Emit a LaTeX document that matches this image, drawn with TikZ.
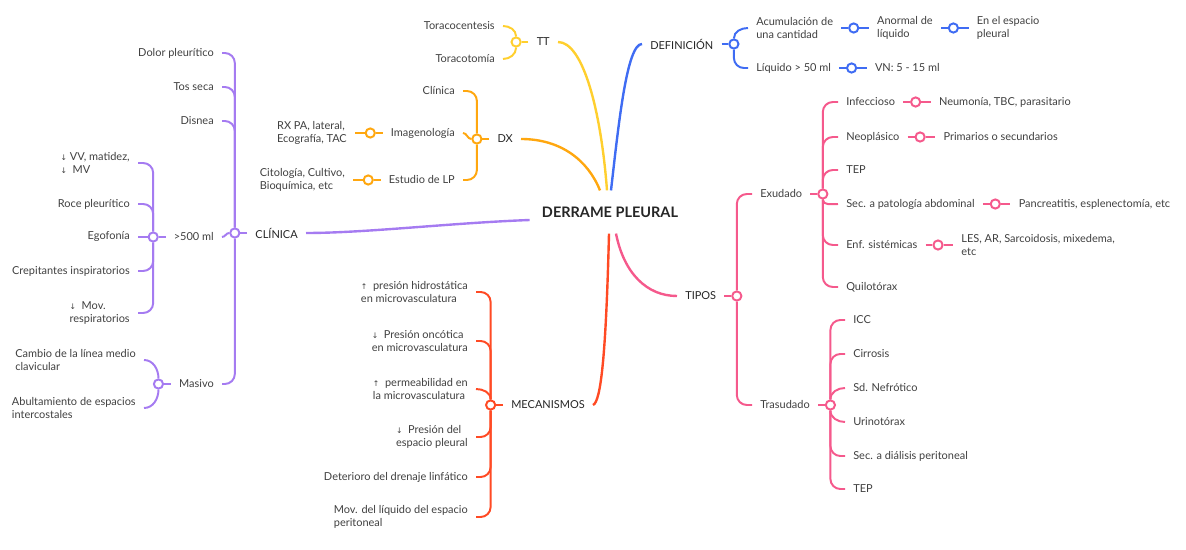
\documentclass[tikz,border=0pt]{standalone}
\usepackage{fontspec}
\setmainfont{Lato}
\newfontfamily\flechas{DejaVu Sans}
\usetikzlibrary{positioning,calc}
\definecolor{azul}{HTML}{3F6CF3}
\definecolor{amarillo}{HTML}{FFCF2E}
\definecolor{naranja}{HTML}{FFA70F}
\definecolor{morado}{HTML}{A57BF1}
\definecolor{rojo}{HTML}{FF4A24}
\definecolor{rosa}{HTML}{F5598C}
\definecolor{tinta}{HTML}{262626}
\definecolor{gris}{HTML}{404040}
\newcommand{\sube}{{\flechas\fontsize{5.5}{6}\selectfont ↑}}
\newcommand{\baja}{{\flechas\fontsize{5.5}{6}\selectfont ↓}}
\tikzset{
	hoja/.style={font=\fontsize{7.8}{9.3}\selectfont, text=gris, align=left, inner xsep=0.2cm, inner ysep=1pt},
	rama/.style={hoja, text=tinta},
	titulo/.style={font=\bfseries\fontsize{10.3}{12}\selectfont, text=tinta, inner xsep=0.3cm, inner ysep=0.4cm},
	nudo/.style={circle, draw=#1, fill=white, line width=1.4pt, minimum size=0.23cm, inner sep=0pt},
	tronco/.style={line width=1.7pt},
	enlace/.style={line width=1.4pt, rounded corners=0.25cm}
}
\begin{document}
\begin{tikzpicture}[x=0.025cm,y=-0.025cm]
			\useasboundingbox (0,0) rectangle (1186,550);

			\node[titulo] (dp) at (610,212) {DERRAME PLEURAL};

			\node[rama, anchor=west] (def) at (642,44) {DEFINICIÓN};
			\node[nudo=azul, right=0.17cm of def] (cdef) {};
			\node[hoja, anchor=west] (acu) at (748,28) {Acumulación de\\una cantidad};
			\node[nudo=azul, right=0.17cm of acu] (cacu) {};
			\node[hoja, right=0.24cm of cacu] (anor) {Anormal de\\líquido};
			\node[nudo=azul, right=0.17cm of anor] (canor) {};
			\node[hoja, right=0.24cm of canor] (esp) {En el espacio\\pleural};
			\node[hoja, anchor=west] (liq) at (748,68) {Líquido > 50 ml};
			\node[nudo=azul, right=0.17cm of liq] (cliq) {};
			\node[hoja, right=0.24cm of cliq] (vn) {VN: 5 - 15 ml};

			\draw[tronco,azul] ($(dp.north)+(1,0)$) .. controls +(8,-70) and +(-15,0) .. (def.west);
			\begin{scope}[enlace,azul]
				\draw (def) -- (cdef);
				\draw (cdef) to[out=90,in=180] (acu.west);
				\draw (cdef) |- (liq.west);
				\draw (acu) -- (cacu) (cacu) -- (anor) (anor) -- (canor) (canor) -- (esp);
				\draw (liq) -- (cliq) (cliq) -- (vn);
			\end{scope}

			\node[rama, anchor=east] (tt) at (558,42) {TT};
			\node[nudo=amarillo, left=0.17cm of tt] (ctt) {};
			\node[hoja, anchor=east] (tcen) at (503,26) {Toracocentesis};
			\node[hoja, anchor=east] (ttom) at (503,59) {Toracotomía};

			\draw[tronco,amarillo] ($(dp.north)+(-3,0)$) .. controls +(-6,-80) and +(25,0) .. (tt.east);
			\begin{scope}[enlace,amarillo]
				\draw (tt) -- (ctt);
				\draw (ctt) to[out=90,in=0] (tcen.east);
				\draw (ctt) to[out=-90,in=0] (ttom.east);
			\end{scope}

			\node[rama, anchor=east] (dx) at (521,139) {DX};
			\node[nudo=naranja, left=0.17cm of dx] (cdx) {};
			\node[hoja, anchor=east] (cli) at (463,91) {Clínica};
			\node[hoja, anchor=east] (img) at (463,133) {Imagenología};
			\node[nudo=naranja, left=0.17cm of img] (cimg) {};
			\node[hoja, left=0.24cm of cimg] (rx) {RX PA, lateral,\\Ecografía, TAC};
			\node[hoja, anchor=east] (elp) at (463,180) {Estudio de LP};
			\node[nudo=naranja, left=0.17cm of elp] (celp) {};
			\node[hoja, left=0.24cm of celp] (cito) {Citología, Cultivo,\\Bioquímica, etc};

			\draw[tronco,naranja] ($(dp.north)+(-10,0)$) .. controls +(-12,-30) and +(40,0) .. (dx.east);
			\begin{scope}[enlace,naranja]
				\draw (dx) -- (cdx);
				\draw (cdx) |- (cli.east);
				\draw (cdx) to[out=180,in=0] (img.east);
				\draw (cdx) |- (elp.east);
				\draw (img) -- (cimg) (cimg) -- (rx);
				\draw (elp) -- (celp) (celp) -- (cito);
			\end{scope}

			\node[rama, anchor=east] (clin) at (306,233) {CLÍNICA};
			\node[nudo=morado, left=0.17cm of clin] (cclin) {};
			\node[hoja, anchor=east] (dolor) at (222,53) {Dolor pleurítico};
			\node[hoja, anchor=east] (tos) at (222,87) {Tos seca};
			\node[hoja, anchor=east] (disnea) at (222,121) {Disnea};
			\node[hoja, anchor=east] (m500) at (222,237) {>500 ml};
			\node[nudo=morado, left=0.17cm of m500] (cm500) {};
			\node[hoja, anchor=east] (masivo) at (222,384) {Masivo};
			\node[nudo=morado, left=0.17cm of masivo] (cmasivo) {};
			\node[hoja, anchor=east] (vv) at (138,163) {\baja\ VV, matidez,\\\baja\ \ MV};
			\node[hoja, anchor=east] (roce) at (138,204) {Roce pleurítico};
			\node[hoja, anchor=east] (ego) at (138,237) {Egofonía};
			\node[hoja, anchor=east] (crep) at (138,271) {Crepitantes inspiratorios};
			\node[hoja, anchor=east] (movr) at (138,313) {\baja\ \ Mov.\\respiratorios};
			\node[hoja, anchor=east] (cambio) at (144,360) {Cambio de la línea medio\\clavicular};
			\node[hoja, anchor=east] (abult) at (144,408) {Abultamiento de espacios\\intercostales};

			\draw[tronco,morado] ($(dp.west)+(0,8)$) .. controls +(-80,3) and +(60,0) .. (clin.east);
			\begin{scope}[enlace,morado]
				\draw (clin) -- (cclin);
				\draw (cclin) |- (dolor.east);
				\draw (cclin) |- (tos.east);
				\draw (cclin) |- (disnea.east);
				\draw (cclin) to[out=180,in=0] (m500.east);
				\draw (cclin) |- (masivo.east);
				\draw (m500) -- (cm500);
				\draw (cm500) |- (vv.east);
				\draw (cm500) |- (roce.east);
				\draw (cm500) -- (ego);
				\draw (cm500) |- (crep.east);
				\draw (cm500) |- (movr.east);
				\draw (masivo) -- (cmasivo);
				\draw (cmasivo) to[out=90,in=0] (cambio.east);
				\draw (cmasivo) to[out=-90,in=0] (abult.east);
			\end{scope}

			\node[rama, anchor=east] (meca) at (593,405) {MECANISMOS};
			\node[nudo=rojo, left=0.17cm of meca] (cmeca) {};
			\node[hoja, anchor=east] (hidro) at (476,292) {\sube\ \ presión hidrostática\\en microvasculatura};
			\node[hoja, anchor=east] (onco) at (476,341) {\baja\ \ Presión oncótica\\en microvasculatura};
			\node[hoja, anchor=east] (perm) at (476,389) {\sube\ \ permeabilidad en\\la microvasculatura};
			\node[hoja, anchor=east] (pleu) at (476,437) {\baja\ \ Presión del\\espacio pleural};
			\node[hoja, anchor=east] (linf) at (476,477) {Deterioro del drenaje linfático};
			\node[hoja, anchor=east] (peri) at (476,517) {Mov. del líquido del espacio\\peritoneal};

			\draw[tronco,rojo] ($(dp.south)+(-1,0)$) .. controls +(-3,120) and +(8,-3) .. (meca.east);
			\begin{scope}[enlace,rojo]
				\draw (meca) -- (cmeca);
				\draw (cmeca) |- (hidro.east);
				\draw (cmeca) |- (onco.east);
				\draw (cmeca) to[out=90,in=0] (perm.east);
				\draw (cmeca) |- (pleu.east);
				\draw (cmeca) |- (linf.east);
				\draw (cmeca) |- (peri.east);
			\end{scope}

			\node[rama, anchor=west] (tipos) at (677,296) {TIPOS};
			\node[nudo=rosa, right=0.17cm of tipos] (ctipos) {};
			\node[hoja, anchor=west] (exu) at (752,194) {Exudado};
			\node[nudo=rosa, right=0.17cm of exu] (cexu) {};
			\node[hoja, anchor=west] (inf) at (838,102) {Infeccioso};
			\node[nudo=rosa, right=0.17cm of inf] (cinf) {};
			\node[hoja, right=0.24cm of cinf] (neum) {Neumonía, TBC, parasitario};
			\node[hoja, anchor=west] (neo) at (838,137) {Neoplásico};
			\node[nudo=rosa, right=0.17cm of neo] (cneo) {};
			\node[hoja, right=0.24cm of cneo] (prim) {Primarios o secundarios};
			\node[hoja, anchor=west] (tepa) at (838,170) {TEP};
			\node[hoja, anchor=west] (abdo) at (838,204) {Sec. a patología abdominal};
			\node[nudo=rosa, right=0.17cm of abdo] (cabdo) {};
			\node[hoja, right=0.24cm of cabdo] (panc) {Pancreatitis, esplenectomía, etc};
			\node[hoja, anchor=west] (enf) at (838,245) {Enf. sistémicas};
			\node[nudo=rosa, right=0.17cm of enf] (cenf) {};
			\node[hoja, right=0.24cm of cenf] (les) {LES, AR, Sarcoidosis, mixedema,\\etc};
			\node[hoja, anchor=west] (quilo) at (838,287) {Quilotórax};
			\node[hoja, anchor=west] (tras) at (752,405) {Trasudado};
			\node[nudo=rosa, right=0.17cm of tras] (ctras) {};
			\node[hoja, anchor=west] (icc) at (845,320) {ICC};
			\node[hoja, anchor=west] (cirr) at (845,354) {Cirrosis};
			\node[hoja, anchor=west] (sdn) at (845,388) {Sd. Nefrótico};
			\node[hoja, anchor=west] (urin) at (845,422) {Urinotórax};
			\node[hoja, anchor=west] (dial) at (845,456) {Sec. a diálisis peritoneal};
			\node[hoja, anchor=west] (tepb) at (845,489) {TEP};

			\draw[tronco,rosa] ($(dp.south)+(6,0)$) .. controls +(8,40) and +(-30,0) .. (tipos.west);
			\begin{scope}[enlace,rosa]
				\draw (tipos) -- (ctipos);
				\draw (ctipos) |- (exu.west);
				\draw (ctipos) |- (tras.west);
				\draw (exu) -- (cexu);
				\draw (cexu) |- (inf.west);
				\draw (cexu) |- (neo.west);
				\draw (cexu) |- (tepa.west);
				\draw (cexu) to[out=-90,in=180] (abdo.west);
				\draw (cexu) |- (enf.west);
				\draw (cexu) |- (quilo.west);
				\draw (inf) -- (cinf) (cinf) -- (neum);
				\draw (neo) -- (cneo) (cneo) -- (prim);
				\draw (abdo) -- (cabdo) (cabdo) -- (panc);
				\draw (enf) -- (cenf) (cenf) -- (les);
				\draw (tras) -- (ctras);
				\draw (ctras) |- (icc.west);
				\draw (ctras) |- (cirr.west);
				\draw (ctras) to[out=90,in=180] (sdn.west);
				\draw (ctras) to[out=-90,in=180] (urin.west);
				\draw (ctras) |- (dial.west);
				\draw (ctras) |- (tepb.west);
			\end{scope}
		\end{tikzpicture}
\end{document}
